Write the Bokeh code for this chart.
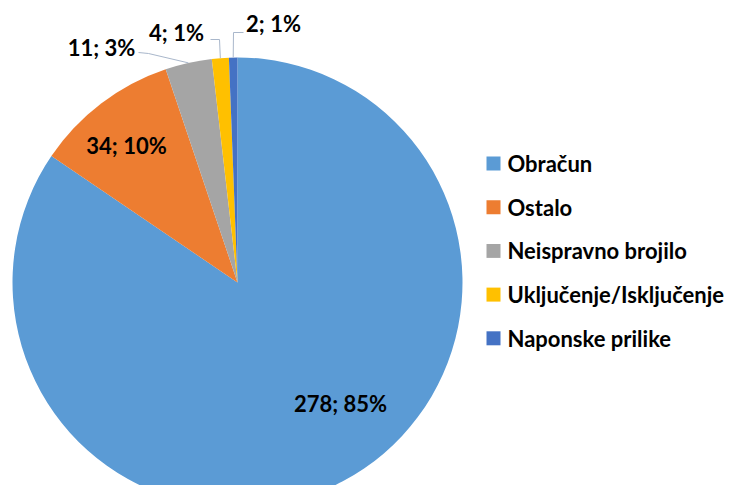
import math
from bokeh.plotting import figure
from bokeh.models import Range1d
from bokeh.core.properties import value
from bokeh.embed import file_html
from bokeh.resources import INLINE

# ---- data ----
categories = ["Obračun", "Ostalo", "Neispravno brojilo", "Uključenje/Isključenje", "Naponske prilike"]
counts = [278, 34, 11, 4, 2]
percent_labels = ["85%", "10%", "3%", "1%", "1%"]

# ---- styles / layout ----
colors = ["#5B9BD5", "#ED7D31", "#A5A5A5", "#FFC000", "#4472C4"]
W, H = 728, 485

def Y(py):
    return H - py

cx, cy, R = 237, 282, 225
FONT = value("Lato")

p = figure(width=W, height=H, output_backend="svg", toolbar_location=None,
           x_range=Range1d(0, W), y_range=Range1d(0, H),
           min_border=0, outline_line_color=None, background_fill_color="white")
p.axis.visible = False
p.grid.visible = False

total = sum(counts)
starts, ends, mids = [], [], []
cum = 0
for c in counts:
    a0 = math.pi / 2 - 2 * math.pi * cum / total
    cum += c
    a1 = math.pi / 2 - 2 * math.pi * cum / total
    starts.append(a0)
    ends.append(a1)
    mids.append((a0 + a1) / 2)

p.wedge(x=[cx] * len(counts), y=[Y(cy)] * len(counts), radius=R,
        start_angle=starts, end_angle=ends, direction="clock",
        fill_color=colors, line_color=None)

# label centres (px, relative to pie centre)
label_offsets = [(103, 121), (-111, -137), (-136, -235), (-61, -250), (36, -259)]
labels = [f"{c}; {pc}" for c, pc in zip(counts, percent_labels)]
lx = [cx + dx for dx, dy in label_offsets]
ly = [Y(cy + dy) for dx, dy in label_offsets]
p.text(x=lx, y=ly, text=labels, text_font=FONT, text_font_style="bold",
       text_font_size="22px", text_align="center", text_baseline="middle",
       text_color="#000000")

# leader lines for outside labels: edge point -> elbow -> end
leader = {2: [(148, 53), (138, 52)], 3: [(219, 39), (210, 39)], 4: [(233, 32), (243, 32)]}
for i, pts in leader.items():
    ex = cx + R * math.cos(mids[i])
    ey = Y(cy) + R * math.sin(mids[i])
    xs = [ex] + [q[0] for q in pts]
    ys = [ey] + [Y(q[1]) for q in pts]
    p.line(xs, ys, line_color="#A9B7CB", line_width=1)

# legend
leg_y0, leg_dy = 163, 43.7
leg_ys = [Y(leg_y0 + i * leg_dy) for i in range(len(categories))]
p.scatter(x=[493] * len(categories), y=leg_ys, marker="square", size=14,
          fill_color=colors, line_color=None)
p.text(x=[507] * len(categories), y=leg_ys, text=categories, text_font=FONT,
       text_font_style="bold", text_font_size="22px", text_align="left",
       text_baseline="middle", text_color="#000000")

open("out.html", "w").write(file_html(p, INLINE))
